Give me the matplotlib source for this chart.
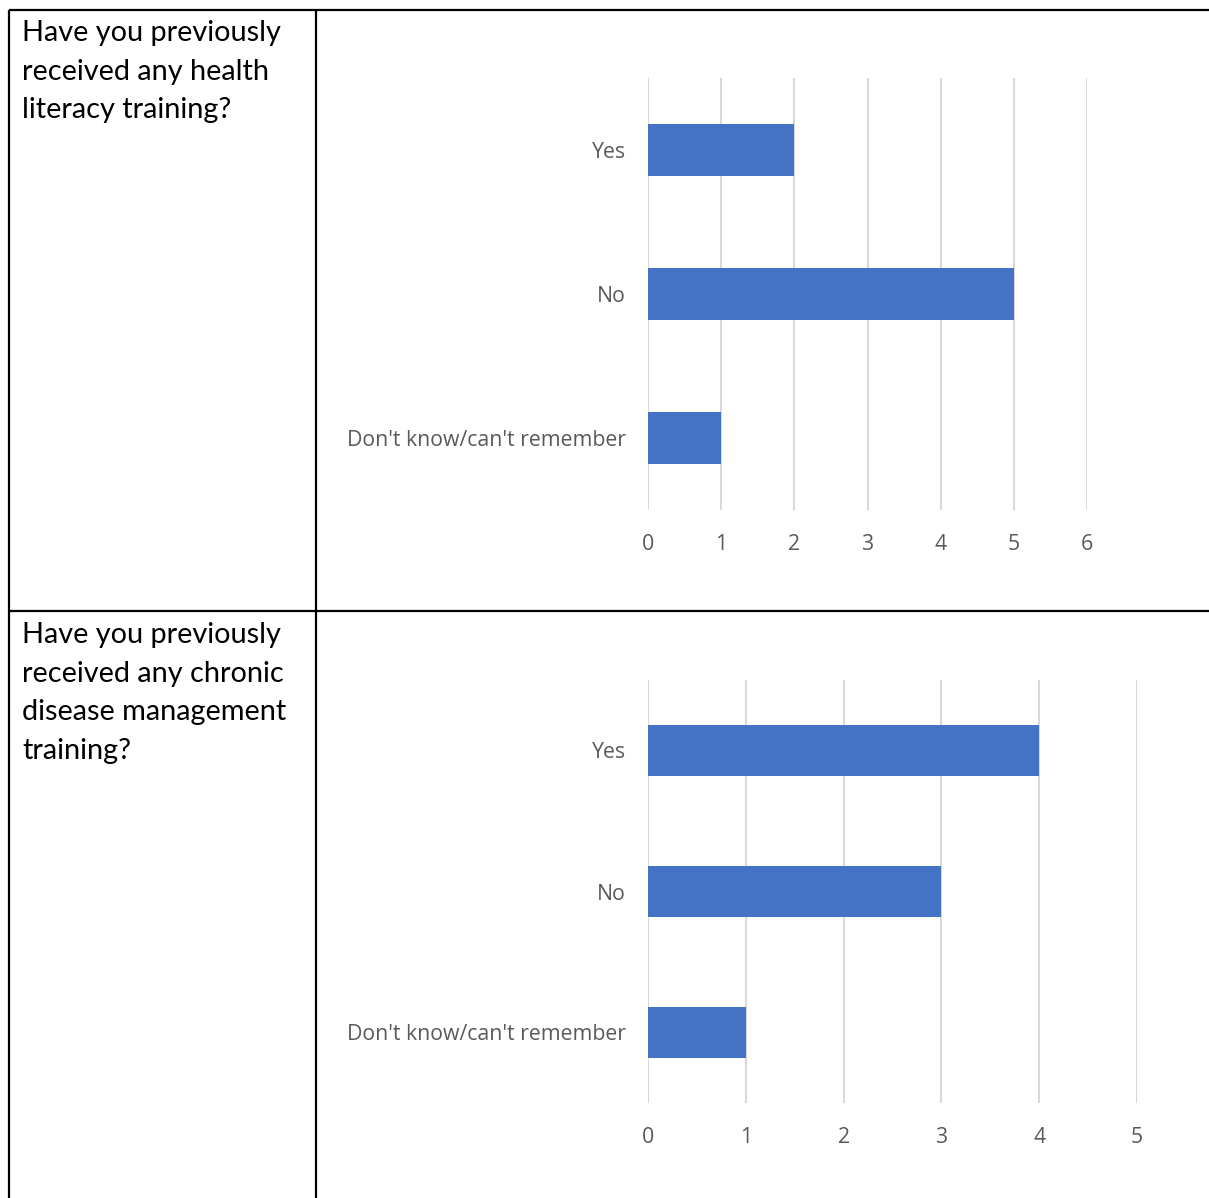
import matplotlib
matplotlib.use("Agg")
import matplotlib.pyplot as plt
from matplotlib.lines import Line2D

# Survey responses
categories = ["Yes", "No", "Don't know/can't remember"]
health_literacy = [2, 5, 1]
chronic_disease = [4, 3, 1]
questions = [
    "Have you previously\nreceived any health\nliteracy training?",
    "Have you previously\nreceived any chronic\ndisease management\ntraining?",
]
xticks_1 = [0, 1, 2, 3, 4, 5, 6]
xticks_2 = [0, 1, 2, 3, 4, 5]

W, H = 1209, 1198
fig = plt.figure(figsize=(W / 100, H / 100), dpi=100)
fig.patch.set_facecolor("white")

BAR = "#4472C4"
GRID = "#D9D9D9"
TICK = "#595959"
FONT = "Open Sans"


def fx(px):
    return px / W


def fy(py):
    return 1 - py / H


def line(x0, y0, x1, y1, lw=1.6):
    fig.add_artist(Line2D([fx(x0), fx(x1)], [fy(y0), fy(y1)], color="black",
                          lw=lw, solid_capstyle="butt", transform=fig.transFigure))


# Table borders
line(9, 10, W, 10)
line(9, 10, 9, H)
line(316, 10, 316, H)
line(9, 611, W, 611)

# Question text in left column
for q, top in zip(questions, [20, 622]):
    fig.text(fx(22), fy(top), q, ha="left", va="top", fontsize=20.8,
             family="Lato", color="black", linespacing=1.6)


def chart(left, right, top, bottom, values, ticks):
    ax = fig.add_axes([fx(left), fy(bottom), fx(right) - fx(left), (bottom - top) / H])
    ypos = list(range(len(categories)))
    ax.barh(ypos, values, height=0.355, color=BAR, zorder=3)
    ax.set_ylim(len(categories) - 0.5, -0.5)
    ax.set_xlim(ticks[0], ticks[-1])
    ax.set_xticks(ticks)
    ax.set_yticks(ypos)
    ax.set_yticklabels(categories, family=FONT, fontsize=15.3, color=TICK)
    ax.set_xticklabels([str(t) for t in ticks], family=FONT, fontsize=15.3, color=TICK)
    ax.tick_params(axis="y", length=0, pad=16)
    ax.tick_params(axis="x", length=0, pad=17)
    ax.grid(axis="x", color=GRID, lw=1.5, zorder=0)
    for s in ax.spines.values():
        s.set_visible(False)
    ax.set_facecolor("none")
    return ax


chart(648, 1087, 78, 510, health_literacy, xticks_1)
chart(648, 1137, 680, 1103, chronic_disease, xticks_2)

fig.savefig("out.png", dpi=100)
